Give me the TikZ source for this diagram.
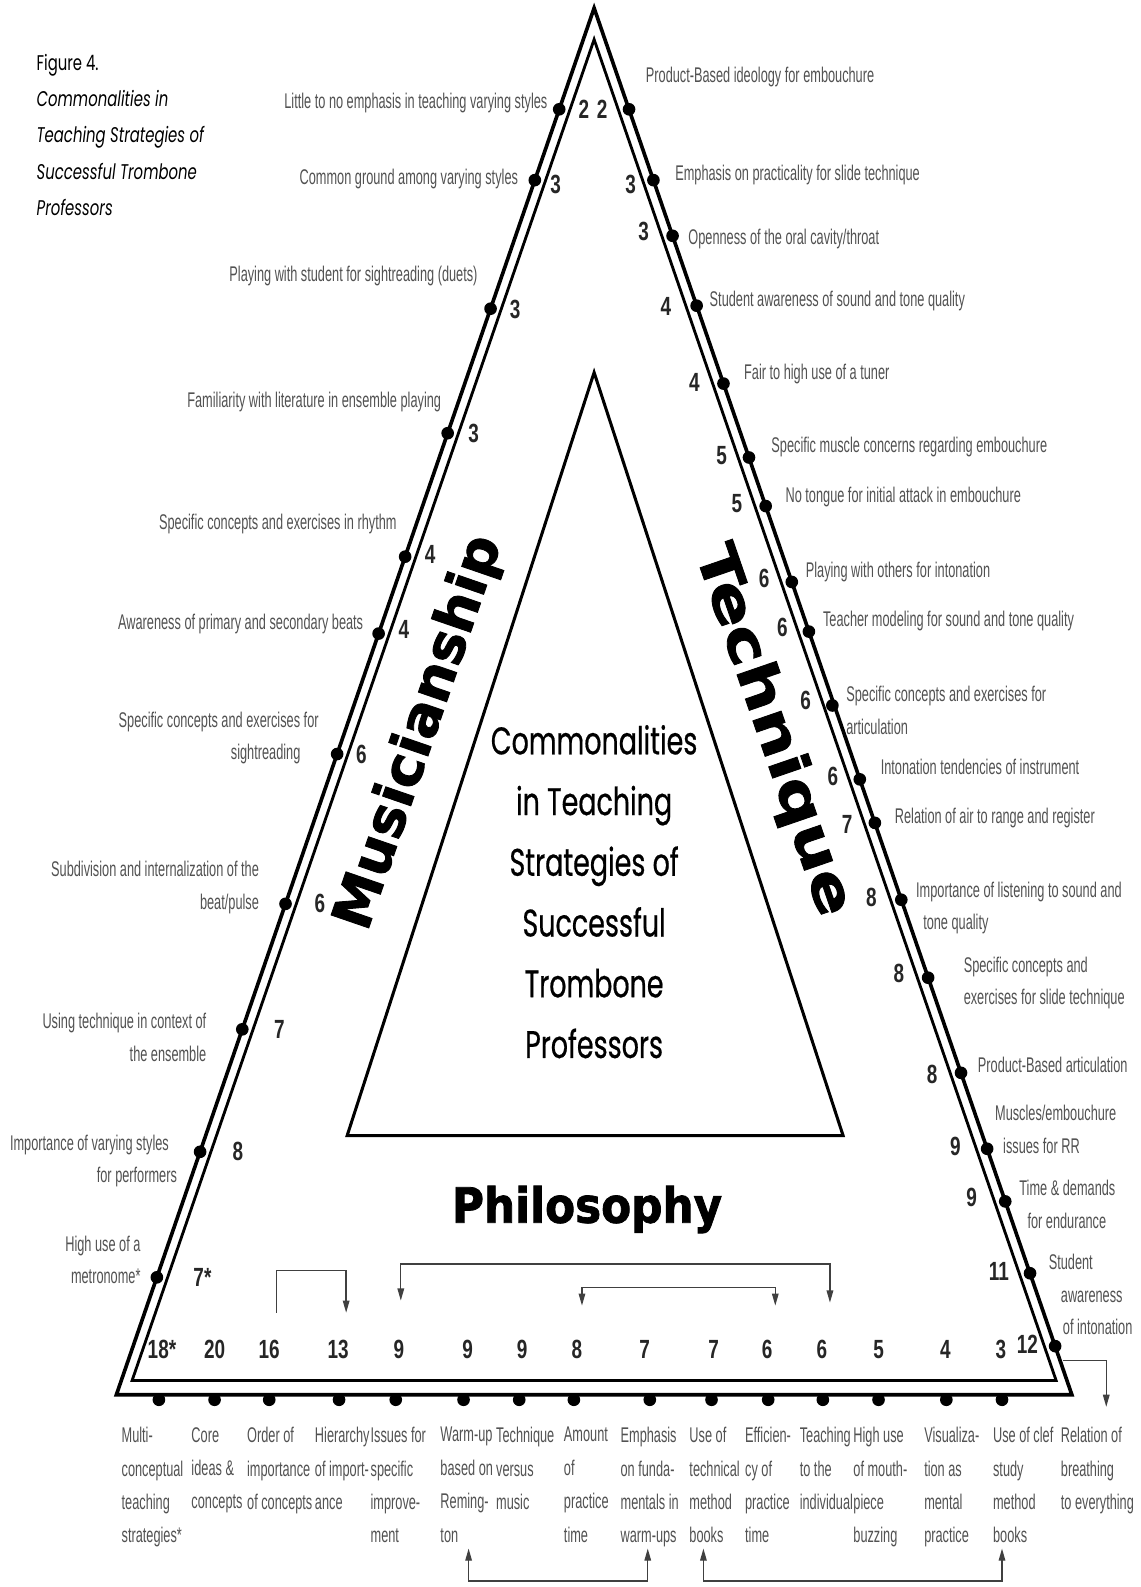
\documentclass[tikz,border=0pt]{standalone}
\usepackage{fontspec}
\usetikzlibrary{arrows.meta}
\newfontfamily\labfont{Liberation Sans}[FakeStretch=0.6]
\newfontfamily\numfont{Liberation Sans}[FakeStretch=0.72]
\newfontfamily\headwide{DejaVu Sans}[FakeStretch=1.25, BoldFeatures={FakeBold=1.6}]
\newfontfamily\headslim{DejaVu Sans}[FakeStretch=0.9, BoldFeatures={FakeBold=1.6}]
\newfontfamily\headmid{DejaVu Sans}[FakeStretch=1.03, BoldFeatures={FakeBold=1.6}]
\newfontfamily\gothfont{Poppins}[FakeStretch=0.7]
\newfontfamily\corefont{Poppins}[FakeStretch=0.7, FakeBold=0.5]

\tikzset{
  dot/.style={circle, fill=black, inner sep=0pt, minimum size=12.5pt},
  lab/.style={font=\labfont\fontsize{21}{32}\selectfont, text=black!68, inner sep=0pt},
  labR/.style={lab, anchor=west, align=left},
  labL/.style={lab, anchor=east, align=right},
  labB/.style={lab, anchor=north west, align=left, font=\labfont\fontsize{21}{33}\selectfont},
  num/.style={font=\numfont\bfseries\fontsize{26}{26}\selectfont, inner sep=0pt, text=black!85},
  outerline/.style={line width=3.6pt, line join=miter},
  innerline/.style={line width=2.8pt, line join=miter},
  brk/.style={line width=1.3pt, draw=black!75},
  tip/.tip={Triangle[length=12pt, width=6.5pt]},
  side/.style={inner sep=0pt}
}

\begin{document}
\begin{tikzpicture}[x=1pt, y=-1pt]
\useasboundingbox (0,0) rectangle (1127,1568);
\fill[white] (0,0) rectangle (1127,1568);

% ---- double-lined frame ----
\coordinate (OA) at (587,8);
\coordinate (OL) at (115,1378);
\coordinate (OR) at (1059,1378);
\coordinate (IA) at (587,39);
\coordinate (IL) at (130.5,1364);
\coordinate (IR) at (1043.5,1364);
\draw[outerline] (OA) -- (OL) -- (OR) -- cycle;
\draw[innerline] (IA) -- (IL) -- (IR) -- cycle;

% ---- central triangle ----
\draw[line width=3pt, line join=miter] (587,368) -- (343,1122) -- (833,1122) -- cycle;

\node[font=\corefont\fontsize{38}{60}\selectfont, align=center] (core) at (587,881)
  {Commonalities\\in Teaching\\Strategies of\\Successful\\Trombone\\Professors};

% ---- caption ----
\node[font=\gothfont\fontsize{21}{36}\selectfont, align=left, anchor=north west, inner sep=0pt] (cap) at (36,53)
  {Figure 4.\\\textit{Commonalities in}\\\textit{Teaching Strategies of}\\\textit{Successful Trombone}\\\textit{Professors}};

% ---- side titles ----
\node[side, font=\headmid\bfseries\fontsize{54}{54}\selectfont, rotate=71] (mus) at (415,724) {Musicianship};
\node[side, font=\headwide\bfseries\fontsize{54}{54}\selectfont, rotate=-71] (tec) at (763,722) {Technique};
\node[side, font=\headslim\bfseries\fontsize{48}{48}\selectfont] (phi) at (580,1195) {Philosophy};

% ---- Musicianship side ----
\node[dot] (m1) at (552.5,108) {};
\node[dot] (m2) at (528.4,178) {};
\node[dot] (m3) at (484.7,305) {};
\node[dot] (m4) at (442.3,428) {};
\node[dot] (m5) at (400.3,550) {};
\node[dot] (m6) at (374.1,626) {};
\node[dot] (m7) at (333.1,745) {};
\node[dot] (m8) at (282.1,893) {};
\node[dot] (m9) at (239.4,1017) {};
\node[dot] (m10) at (197.7,1138) {};
\node[dot] (m11) at (155.0,1262) {};

\node[num] (mn1) at (577,108) {2};
\node[num] (mn2) at (549,182) {3};
\node[num] (mn3) at (509,306) {3};
\node[num] (mn4) at (468,428) {3};
\node[num] (mn5) at (425,548) {4};
\node[num] (mn6) at (399,622) {4};
\node[num] (mn7) at (357,745) {6};
\node[num] (mn8) at (316,893) {6};
\node[num] (mn9) at (276,1017) {7};
\node[num] (mn10) at (235,1138) {8};
\node[num] (mn11) at (200,1262) {7*};

\node[labL] (ml1) at (541,102) {Little to no emphasis in teaching varying styles};
\node[labL] (ml2) at (512,177) {Common ground among varying styles};
\node[labL] (ml3) at (472,273) {Playing with student for sightreading (duets)};
\node[labL] (ml4) at (436,397) {Familiarity with literature in ensemble playing};
\node[labL] (ml5) at (392,518) {Specific concepts and exercises in rhythm};
\node[labL] (ml6) at (359,617) {Awareness of primary and secondary beats};
\node[labL] (ml7) at (315,729) {Specific concepts and exercises for\\sightreading\hspace*{18pt}};
\node[labL] (ml8) at (256,877) {Subdivision and internalization of the\\beat/pulse};
\node[labL] (ml9) at (204,1025) {Using technique in context of\\the ensemble};
\node[labL] (ml10) at (175,1147) {Importance of varying styles\hspace*{8pt}\\for performers};
\node[labL] (ml11) at (139,1245) {High use of a\\metronome*};

% ---- Technique side ----
\node[dot] (t1) at (621.5,108) {};
\node[dot] (t2) at (645.6,178) {};
\node[dot] (t3) at (664.5,233) {};
\node[dot] (t4) at (688.3,302) {};
\node[dot] (t5) at (714.8,379) {};
\node[dot] (t6) at (740.0,452) {};
\node[dot] (t7) at (756.5,500) {};
\node[dot] (t8) at (782.3,575) {};
\node[dot] (t9) at (799.2,624) {};
\node[dot] (t10) at (822.4,697) {};
\node[dot] (t11) at (849.5,770) {};
\node[dot] (t12) at (864.4,813) {};
\node[dot] (t13) at (890.5,889) {};
\node[dot] (t14) at (917.0,966) {};
\node[dot] (t15) at (949.5,1060) {};
\node[dot] (t16) at (975.3,1135) {};
\node[dot] (t17) at (993.2,1187) {};
\node[dot] (t18) at (1017.7,1258) {};
\node[dot] (t19) at (1042.5,1330) {};

\node[num] (tn1) at (595,108) {2};
\node[num] (tn2) at (623,182) {3};
\node[num] (tn3) at (636,229) {3};
\node[num] (tn4) at (658,303) {4};
\node[num] (tn5) at (686,378) {4};
\node[num] (tn6) at (713,450) {5};
\node[num] (tn7) at (728,498) {5};
\node[num] (tn8) at (755,572) {6};
\node[num] (tn9) at (773,620) {6};
\node[num] (tn10) at (796,692) {6};
\node[num] (tn11) at (823,767) {6};
\node[num] (tn12) at (837,815) {7};
\node[num] (tn13) at (861,887) {8};
\node[num] (tn14) at (888,962) {8};
\node[num] (tn15) at (921,1062) {8};
\node[num] (tn16) at (944,1133) {9};
\node[num] (tn17) at (960,1183) {9};
\node[num] (tn18) at (987,1256) {11};
\node[num] (tn19) at (1015,1328) {12};

\node[labR] (tl1) at (638,76) {Product-Based ideology for embouchure};
\node[labR] (tl2) at (667,173) {Emphasis on practicality for slide technique};
\node[labR] (tl3) at (680,236) {Openness of the oral cavity/throat};
\node[labR] (tl4) at (701,297) {Student awareness of sound and tone quality};
\node[labR] (tl5) at (735,370) {Fair to high use of a tuner};
\node[labR] (tl6) at (762,442) {Specific muscle concerns regarding embouchure};
\node[labR] (tl7) at (776,491) {No tongue for initial attack in embouchure};
\node[labR] (tl8) at (796,565) {Playing with others for intonation};
\node[labR] (tl9) at (813,614) {Teacher modeling for sound and tone quality};
\node[labR] (tl10) at (836,702) {Specific concepts and exercises for\\articulation};
\node[labR] (tl11) at (870,758) {Intonation tendencies of instrument};
\node[labR] (tl12) at (884,808) {Relation of air to range and register};
\node[labR] (tl13) at (905,897) {Importance of listening to sound and\\\hspace*{7pt}tone quality};
\node[labR] (tl14) at (952,971) {Specific concepts and\\exercises for slide technique};
\node[labR] (tl15) at (966,1052) {Product-Based articulation};
\node[labR] (tl16) at (983,1116) {Muscles/embouchure\\\hspace*{8pt}issues for RR};
\node[labR] (tl17) at (1007,1190) {Time \& demands\\\hspace*{8pt}for endurance};
\node[labR] (tl18) at (1036,1279) {Student\\\hspace*{12pt}awareness\\\hspace*{14pt}of intonation};

% ---- Philosophy side ----
\foreach \i/\x/\nx/\n in {1/157/160/18*, 2/212/212/20, 3/266/266/16, 4/335/334/13,
    5/391/394/9, 6/458/462/9, 7/513/516/9, 8/567/570/8, 9/642/637/7, 10/703/705/7,
    11/759/758/6, 12/813/812/6, 13/868/868/5, 14/935/934/4, 15/990/989/3} {
  \node[dot] (p\i) at (\x,1383) {};
  \node[num] (pn\i) at (\nx,1333) {\n};
}

\node[labB] (pl1) at (120,1410) {Multi-\\conceptual\\teaching\\strategies*};
\node[labB] (pl2) at (189,1410) {Core\\ideas \&\\concepts};
\node[labB] (pl3) at (244,1410) {Order of\\importance\\of concepts};
\node[labB] (pl4) at (311,1410) {Hierarchy\\of import-\\ance};
\node[labB] (pl5) at (366,1410) {Issues for\\specific\\improve-\\ment};
\node[labB] (pl6) at (435,1410) {Warm-up\\based on\\Reming-\\ton};
\node[labB] (pl7) at (490,1410) {Technique\\versus\\music};
\node[labB] (pl8) at (557,1410) {Amount\\of\\practice\\time};
\node[labB] (pl9) at (613,1410) {Emphasis\\on funda-\\mentals in\\warm-ups};
\node[labB] (pl10) at (681,1410) {Use of\\technical\\method\\books};
\node[labB] (pl11) at (736,1410) {Efficien-\\cy of\\practice\\time};
\node[labB] (pl12) at (790,1410) {Teaching\\to the\\individual};
\node[labB] (pl13) at (843,1410) {High use\\of mouth-\\piece\\buzzing};
\node[labB] (pl14) at (913,1410) {Visualiza-\\tion as\\mental\\practice};
\node[labB] (pl15) at (981,1410) {Use of clef\\study\\method\\books};
\node[labB] (pl16) at (1048,1410) {Relation of\\breathing\\to everything};

% ---- bracket connectors ----
\coordinate (a0) at (273,1297);  \coordinate (a1) at (342,1297);
\coordinate (b0) at (396,1285);  \coordinate (b1) at (820,1287);
\coordinate (c0) at (575,1290);  \coordinate (c1) at (766,1290);
\coordinate (d0) at (463,1530);  \coordinate (d1) at (640,1530);
\coordinate (e0) at (695,1530);  \coordinate (e1) at (990,1530);
\coordinate (f0) at (1050,1344); \coordinate (f1) at (1093,1390);

\draw[brk, -tip] (a0) -- ++(0,-42) -| (a1);
\draw[brk, tip-tip] (b0) -- ++(0,-36) -| (b1);
\draw[brk, tip-tip] (c0) -- ++(0,-18) -| (c1);
\draw[brk, tip-tip] (d0) -- ++(0,32) -| (d1);
\draw[brk, tip-tip] (e0) -- ++(0,32) -| (e1);
\draw[brk, -tip] (f0) -| (f1);
\end{tikzpicture}
\end{document}
